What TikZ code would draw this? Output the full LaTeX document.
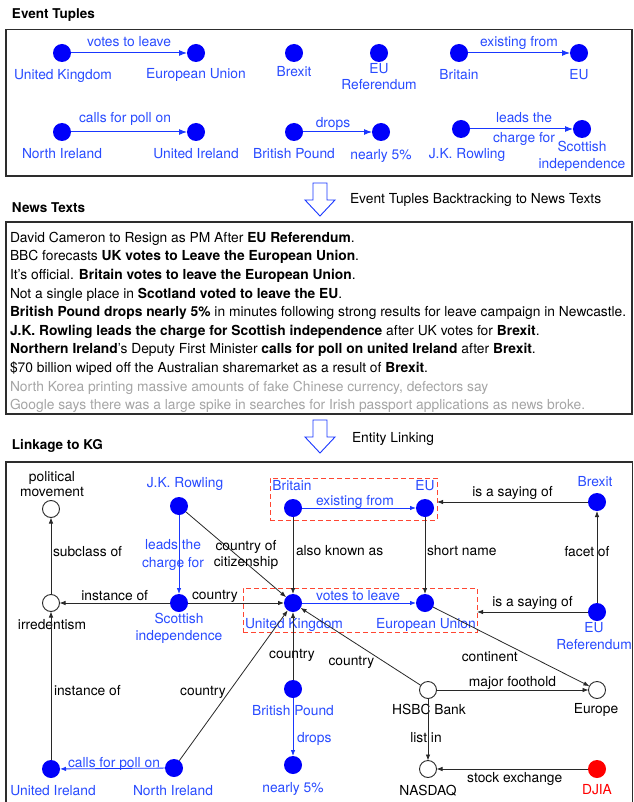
\documentclass[tikz,border=0pt]{standalone}
\usepackage{fontspec}
\setmainfont{TeX Gyre Heros}
\usetikzlibrary{arrows.meta}
\definecolor{entblue}{RGB}{0,0,250}
\definecolor{txtblue}{RGB}{40,75,255}
\definecolor{edgeblue}{RGB}{25,55,255}
\definecolor{kgline}{RGB}{40,40,40}
\definecolor{framegray}{RGB}{45,45,45}
\definecolor{boxred}{RGB}{255,70,50}
\definecolor{djiared}{RGB}{255,0,0}
\definecolor{newsgray}{RGB}{165,165,165}

\begin{document}
\begin{tikzpicture}[x=1pt,y=-1pt,inner sep=0pt,outer sep=0pt,
ent/.style={circle,fill=entblue,minimum size=18pt},
djia/.style={circle,fill=djiared,minimum size=18pt},
obj/.style={circle,draw=kgline,fill=white,line width=0.9pt,minimum size=17pt},
lbl/.style={font=\fontsize{13.8}{16}\selectfont,text height=9.6pt,text depth=2.5pt},
blbl/.style={lbl,text=txtblue},
two/.style={font=\fontsize{13.8}{16}\selectfont,align=center},
btwo/.style={two,text=txtblue},
sect/.style={font=\bfseries\fontsize{13.5}{16}\selectfont,anchor=west,text height=9.5pt,text depth=2.5pt},
bedge/.style={draw=edgeblue,line width=1pt,-{Latex[length=8pt,width=6pt]}},
kbedge/.style={draw=edgeblue,line width=0.8pt,-{Latex[length=6pt,width=4.5pt]}},
kgedge/.style={draw=kgline,line width=0.8pt,-{Latex[length=6pt,width=4.5pt]}},
frame/.style={draw=framegray,line width=1.1pt},
redbox/.style={draw=boxred,line width=0.9pt,dash pattern=on 5pt off 3pt},
hollow/.style={draw=edgeblue,fill=white,line width=0.9pt,line join=miter}]

\fill[white] (0,0) rectangle (633,802);
\useasboundingbox (0,0) rectangle (633,802);

% event tuples
\draw (12,15) node[sect] (tTitle) {Event Tuples};
\draw[frame] (6,29.5) rectangle (632,176);

\draw (62,53) node[ent] (tUK) {} (63,76) node[blbl] (tUKl) {United Kingdom};
\draw (196,53) node[ent] (tEU) {} (196,75) node[blbl] (tEUl) {European Union};
\draw (294,53) node[ent] (tBrexit) {} (294,73) node[blbl] (tBrexitl) {Brexit};
\draw (379,53) node[ent] (tRef) {} (379,63) node[btwo,anchor=north] (tRefl) {EU\\Referendum};
\draw (459,53) node[ent] (tBritain) {} (459,76) node[blbl] (tBritainl) {Britain};
\draw (579,53) node[ent] (tEUs) {} (579,76) node[blbl] (tEUsl) {EU};

\draw (62,132) node[ent] (tNI) {} (62,155) node[blbl] (tNIl) {North Ireland};
\draw (196,132) node[ent] (tUI) {} (196,155) node[blbl] (tUIl) {United Ireland};
\draw (294,132) node[ent] (tBP) {} (294,155) node[blbl] (tBPl) {British Pound};
\draw (381,132) node[ent] (tN5) {} (381,156) node[blbl] (tN5l) {nearly 5\%};
\draw (461,129) node[ent] (tJK) {} (467,155) node[blbl] (tJKl) {J.K. Rowling};
\draw (582,129) node[ent] (tSI) {} (582,141) node[btwo,font=\fontsize{13.8}{17}\selectfont,anchor=north] (tSIl) {Scottish\\independence};

\draw[bedge] (tUK) -- node[blbl,pos=.5,above=4pt] (tVote) {votes to leave} (tEU);
\draw[bedge] (tBritain) -- node[blbl,pos=.5,above=4pt] (tExist) {existing from} (tEUs);
\draw[bedge] (tNI) -- node[blbl,pos=.5,above=7pt,xshift=-4pt] (tCall) {calls for poll on} (tUI);
\draw[bedge] (tBP) -- node[blbl,pos=.5,above=2pt,xshift=-4.5pt] (tDrop) {drops} (tN5);
\draw[bedge] (tJK) -- node[btwo,font=\fontsize{13.8}{20}\selectfont,pos=.5,xshift=2.5pt] (tLead) {leads the\\charge for} (tSI);

% backtracking arrow
\coordinate (arrA) at (320,183);
\draw[hollow] (arrA) ++(-7,0) -- ++(0,17) -- ++(-8,0) -- ++(15,16) -- ++(15,-16) -- ++(-8,0) -- ++(0,-17) -- cycle;
\draw (350,200) node[lbl,anchor=west] (arrAl) {Event Tuples Backtracking to News Texts};

% news texts
\draw (12,209) node[sect] (nTitle) {News Texts};
\draw[frame] (6,222) rectangle (632,414);
\draw (10,232) node[anchor=north west,align=left,font=\fontsize{13.8}{18.6}\selectfont] (news) {%
David Cameron to Resign as PM After \textbf{EU Referendum}.\\
BBC forecasts \textbf{UK votes to Leave the European Union}.\\
It's official. \textbf{Britain votes to leave the European Union}.\\
Not a single place in \textbf{Scotland voted to leave the EU}.\\
\textbf{British Pound drops nearly 5\%} in minutes following strong results for leave campaign in Newcastle.\\
\textbf{J.K. Rowling leads the charge for Scottish independence} after UK votes for \textbf{Brexit}.\\
\textbf{Northern Ireland}'s Deputy First Minister \textbf{calls for poll on united Ireland} after \textbf{Brexit}.\\
\$70 billion wiped off the Australian sharemarket as a result of \textbf{Brexit}.\\
\textcolor{newsgray}{North Korea printing massive amounts of fake Chinese currency, defectors say}\\
\textcolor{newsgray}{Google says there was a large spike in searches for Irish passport applications as news broke.}};

% entity linking arrow
\coordinate (arrB) at (320,420);
\draw[hollow] (arrB) ++(-7,0) -- ++(0,17) -- ++(-8,0) -- ++(15,16) -- ++(15,-16) -- ++(-8,0) -- ++(0,-17) -- cycle;
\draw (352,439) node[lbl,anchor=west] (arrBl) {Entity Linking};

% linkage to KG
\draw (12,446) node[sect] (kTitle) {Linkage to KG};
\draw[frame] (6,462) rectangle (632.5,812);

\draw (51,509) node[obj] (kPol) {} (52,471) node[two,font=\fontsize{13.8}{15}\selectfont,anchor=north] (kPoll) {political\\movement};
\draw (51,603) node[obj] (kIrr) {} (52,626) node[lbl] (kIrrl) {irredentism};
\draw (179,506) node[ent] (kJK) {} (185,484) node[blbl] (kJKl) {J.K. Rowling};
\draw (179,603) node[ent] (kSI) {} (179,613) node[btwo,font=\fontsize{13.8}{17}\selectfont,anchor=north] (kSIl) {Scottish\\independence};
\draw (293,508) node[ent] (kBritain) {} (292,487) node[blbl] (kBritainl) {Britain};
\draw (425,508) node[ent] (kEU) {} (425,487) node[blbl] (kEUl) {EU};
\draw (293,603) node[ent] (kUK) {} (294,625) node[blbl] (kUKl) {United Kingdom};
\draw (425,603) node[ent] (kEUn) {} (426,625) node[blbl] (kEUnl) {European Union};
\draw (597,502) node[ent] (kBrexit) {} (595,483) node[blbl] (kBrexitl) {Brexit};
\draw (597,612) node[ent] (kRef) {} (594,622) node[btwo,font=\fontsize{13.8}{17}\selectfont,anchor=north] (kRefl) {EU\\Referendum};
\draw (293,689) node[ent] (kBP) {} (293,712) node[blbl] (kBPl) {British Pound};
\draw (293,765) node[ent] (kN5) {} (293,789) node[blbl] (kN5l) {nearly 5\%};
\draw (428,690) node[obj] (kHSBC) {} (429,711) node[lbl] (kHSBCl) {HSBC Bank};
\draw (597,690) node[obj] (kEurope) {} (596,710) node[lbl] (kEuropel) {Europe};
\draw (428,769) node[obj] (kNASDAQ) {} (428,792) node[lbl] (kNASDAQl) {NASDAQ};
\draw (597,769) node[djia] (kDJIA) {} (597,791) node[lbl,text=djiared] (kDJIAl) {DJIA};
\draw (51,769) node[ent] (kUI) {} (53,792) node[blbl] (kUIl) {United Ireland};
\draw (174,768) node[ent] (kNI) {} (173,792) node[blbl] (kNIl) {North Ireland};

\node[redbox,minimum width=167pt,minimum height=42pt] (boxA) at (353.5,499) {};
\node[redbox,minimum width=234pt,minimum height=44pt] (boxB) at (360,610) {};

\draw[kgedge] (kIrr) -- node[lbl,pos=.54,right=2pt] (eSub) {subclass of} (kPol);
\draw[kgedge] (kSI) -- node[lbl,pos=.5,above=0pt] (eInst) {instance of} (kIrr);
\draw[kbedge] (kJK) -- node[btwo,font=\fontsize{13.8}{18}\selectfont,pos=.51,xshift=-6pt] (eLead) {leads the\\charge for} (kSI);
\draw[kgedge] (kJK) -- node[two,pos=.5,xshift=10pt] (eCit) {country of\\citizenship} (kUK);
\draw[kgedge] (kSI) -- node[lbl,pos=.28,above=1pt] (eSIc) {country} (kUK);
\draw[kgedge] (kBritain) -- node[lbl,pos=.455,right=3pt] (eAka) {also known as} (kUK);
\draw[kgedge] (kEU) -- node[lbl,pos=.455,right=2pt] (eShort) {short name} (kEUn);
\draw[kbedge] (kBritain) -- node[blbl,pos=.5,above=0pt,xshift=-4pt] (eExist) {existing from} (kEU);
\draw[kbedge] (kUK) -- node[blbl,pos=.5,above=0pt,xshift=-1pt] (eVote) {votes to leave} (kEUn);
\draw[kgedge] (kBrexit) -- node[lbl,pos=.5,above=3pt] (eSayA) {is a saying of} (kBrexit -| boxA.east);
\draw[kgedge] (kRef) -- node[lbl,pos=.5,above=3pt] (eSayB) {is a saying of} (kRef -| boxB.east);
\draw[kgedge] (kRef) -- node[lbl,pos=.543,xshift=-10pt] (eFacet) {facet of} (kBrexit);
\draw[kgedge] (kBP) -- node[lbl,pos=.368,xshift=-1pt] (eBPc) {country} (kUK);
\draw[kbedge] (kBP) -- node[blbl,pos=.707,right=4pt] (eDrop) {drops} (kN5);
\draw[kgedge] (kNI) -- node[lbl,pos=.457,left=3pt] (eNIc) {country} (kUK);
\draw[kgedge] (kUI) -- node[lbl,pos=.458,right=3pt] (eInstB) {instance of} (kIrr);
\draw[kbedge] (kNI) -- node[blbl,pos=.5,above=-1pt,xshift=1.5pt] (eCall) {calls for poll on} (kUI);
\draw[kgedge] (kHSBC) -- node[lbl,pos=.38,left=1pt,yshift=-6pt] (eHSc) {country} (kUK);
\draw[kgedge] (kEUn) -- node[lbl,pos=.35,below=17pt,xshift=2pt] (eCont) {continent} (kEurope);
\draw[kgedge] (kHSBC) -- node[lbl,pos=.5,above=1pt] (eMajor) {major foothold} (kEurope);
\draw[kgedge] (kHSBC) -- node[lbl,pos=.653,xshift=-2pt] (eList) {list in} (kNASDAQ);
\draw[kgedge] (kDJIA) -- node[lbl,pos=.5,below=4pt,xshift=2.5pt] (eStock) {stock exchange} (kNASDAQ);

\end{tikzpicture}
\end{document}
